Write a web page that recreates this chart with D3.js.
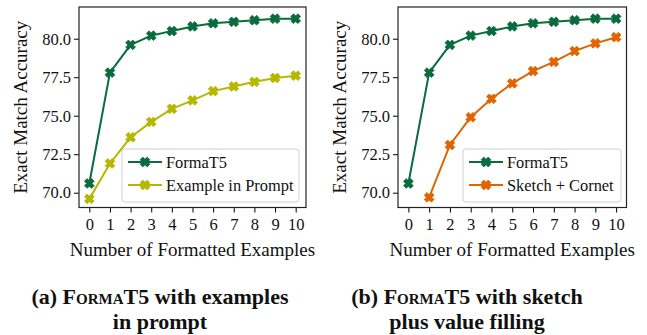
<!DOCTYPE html>
<html>
<head>
<meta charset="utf-8">
<script src="https://cdn.jsdelivr.net/npm/d3@7"></script>
<style>
  body { margin: 0; background: #fff; }
  svg text { font-family: "Liberation Serif", "Times New Roman", Times, serif !important; }
</style>
</head>
<body>
<svg width="647" height="335"></svg>
<script>
let width = 647, height = 335;

// data
let steps = [0, 1, 2, 3, 4, 5, 6, 7, 8, 9, 10];
let formaT5 = [70.6, 77.8, 79.6, 80.2, 80.5, 80.8, 81.0, 81.1, 81.2, 81.3, 81.3];
let examplePrompt = [69.6, 71.9, 73.6, 74.6, 75.45, 76.0, 76.6, 76.9, 77.2, 77.45, 77.6];
let sketchSteps = [1, 2, 3, 4, 5, 6, 7, 8, 9, 10];
let sketchCornet = [69.7, 73.1, 74.9, 76.1, 77.1, 77.9, 78.5, 79.2, 79.7, 80.1];
let yTicks = [70.0, 72.5, 75.0, 77.5, 80.0];

let green = "#0a6b3f", olive = "#b5b800", orange = "#e06500";
let serif = "'Liberation Serif', 'Times New Roman', Times, serif";

let svg = d3.select("svg");

// filled "X" marker like matplotlib
function xMarker(r) {
    let w = r * 0.38;
    let pts = [[-w, -r], [w, -r], [w, -w], [r, -w], [r, w], [w, w], [w, r], [-w, r], [-w, w], [-r, w], [-r, -w], [-w, -w]];
    let a = Math.PI / 4;
    return "M" + pts.map(p => [p[0] * Math.cos(a) - p[1] * Math.sin(a), p[0] * Math.sin(a) + p[1] * Math.cos(a)].map(v => v.toFixed(2)).join(",")).join("L") + "Z";
}

function panel(left, right, series, labelX, caption) {
    let top = 7, bottom = 207.5;
    let x = d3.scaleLinear().domain([-0.5, 10.5]).range([left, right]);
    let y = d3.scaleLinear().domain([69.04, 82.06]).range([bottom, top]);
    let g = svg.append("g");

    g.append("g")
        .attr("transform", "translate(0," + bottom + ")")
        .call(d3.axisBottom(x).tickValues(steps).tickSize(5).tickPadding(6).tickFormat(d3.format("d")))
        .attr("font-family", serif)
        .call(a => a.select(".domain").remove())
        .call(a => a.selectAll("text").attr("font-size", 16.5).attr("fill", "#111"));

    g.append("g")
        .attr("transform", "translate(" + left + ",0)")
        .call(d3.axisLeft(y).tickValues(yTicks).tickSize(5).tickPadding(3).tickFormat(d3.format(".1f")))
        .attr("font-family", serif)
        .call(a => a.select(".domain").remove())
        .call(a => a.selectAll("text").attr("font-size", 16.5).attr("fill", "#111"));

    g.append("rect")
        .attr("x", left).attr("y", top)
        .attr("width", right - left).attr("height", bottom - top)
        .attr("fill", "none").attr("stroke", "#222").attr("stroke-width", 1.2);

    let line = d3.line().x(d => x(d[0])).y(d => y(d[1]));
    series.forEach(s => {
        let pts = s.xs.map((v, i) => [v, s.ys[i]]);
        g.append("path").attr("d", line(pts))
            .attr("fill", "none").attr("stroke", s.color).attr("stroke-width", 2);
        g.selectAll(null).data(pts).enter().append("path")
            .attr("d", xMarker(5))
            .attr("transform", d => "translate(" + x(d[0]) + "," + y(d[1]) + ")")
            .attr("fill", s.color).attr("stroke", s.color).attr("stroke-width", 0.8);
    });

    // legend
    let lx = series[1].legendX, lw = series[1].legendW;
    let lg = g.append("g");
    lg.append("rect")
        .attr("x", lx).attr("y", 149).attr("width", lw).attr("height", 53)
        .attr("rx", 3).attr("fill", "#fff").attr("fill-opacity", 0.85)
        .attr("stroke", "#d0d0d0").attr("stroke-width", 1);
    series.forEach((s, i) => {
        let cy = 162 + i * 23;
        lg.append("line").attr("x1", lx + 6).attr("x2", lx + 40).attr("y1", cy).attr("y2", cy)
            .attr("stroke", s.color).attr("stroke-width", 2);
        lg.append("path").attr("d", xMarker(5))
            .attr("transform", "translate(" + (lx + 23) + "," + cy + ")")
            .attr("fill", s.color).attr("stroke", s.color).attr("stroke-width", 0.8);
        lg.append("text").attr("x", lx + 44).attr("y", cy + 5.5)
            .attr("font-size", 16.4).attr("fill", "#111").text(s.name);
    });

    g.append("text")
        .attr("transform", "translate(" + labelX + "," + ((top + bottom) / 2) + ") rotate(-90)")
        .attr("text-anchor", "middle").attr("font-size", 19).attr("fill", "#111")
        .text("Exact Match Accuracy");

    g.append("text")
        .attr("x", (left + right) / 2).attr("y", 256)
        .attr("text-anchor", "middle").attr("font-size", 19).attr("fill", "#111")
        .text("Number of Formatted Examples");

    caption.lines.forEach((ln, i) => {
        let t = g.append("text")
            .attr("x", caption.cx).attr("y", 304 + i * 25)
            .attr("text-anchor", "middle").attr("font-size", 22).attr("font-weight", "bold").attr("fill", "#111");
        ln.forEach(part => {
            t.append("tspan").attr("font-variant", part.sc ? "small-caps" : "normal").text(part.t);
        });
    });
}

panel(79, 306, [
    { name: "FormaT5", xs: steps, ys: formaT5, color: green },
    { name: "Example in Prompt", xs: steps, ys: examplePrompt, color: olive, legendX: 122, legendW: 177 }
], 27, { cx: 160, lines: [[{ t: "(a) " }, { t: "FormaT5", sc: true }, { t: " with examples" }], [{ t: "in prompt" }]] });

panel(398, 626.5, [
    { name: "FormaT5", xs: steps, ys: formaT5, color: green },
    { name: "Sketch + Cornet", xs: sketchSteps, ys: sketchCornet, color: orange, legendX: 463, legendW: 158 }
], 346, { cx: 467, lines: [[{ t: "(b) " }, { t: "FormaT5", sc: true }, { t: " with sketch" }], [{ t: "plus value filling" }]] });
</script>
</body>
</html>
